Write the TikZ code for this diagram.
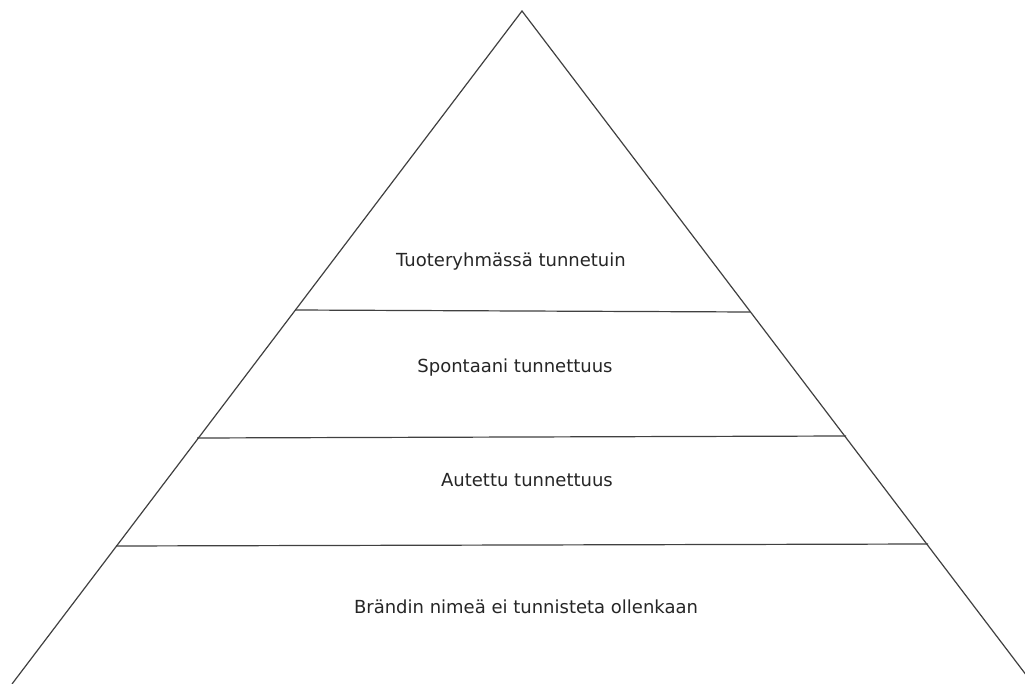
\documentclass[tikz,border=0pt]{standalone}
\usepackage{fontspec}
\setmainfont{DejaVu Sans}
\begin{document}
\begin{tikzpicture}[x=0.75pt,y=-0.75pt,
  edge/.style={draw=black!75,line width=0.9pt},
  label/.style={font=\fontsize{13.5}{16}\selectfont,text=black!85,inner sep=0pt}]
\useasboundingbox (0,0) rectangle (1025,684);
\clip (0,0) rectangle (1025,684);
\fill[white] (0,0) rectangle (1025,684);
\coordinate (apex) at (522,11);
\coordinate (bl) at (12,684);
\coordinate (br) at (1033,684);
\coordinate (a1) at (295,310);
\coordinate (b1) at (750,312);
\coordinate (a2) at (197,438);
\coordinate (b2) at (846,436);
\coordinate (a3) at (116,546);
\coordinate (b3) at (928,544);
\draw[edge] (bl) -- (apex) -- (br);
\draw[edge] (a1) -- (b1);
\draw[edge] (a2) -- (b2);
\draw[edge] (a3) -- (b3);
\node[label] (t1) at (511,262) {Tuoteryhmässä tunnetuin};
\node[label] (t2) at (515,368) {Spontaani tunnettuus};
\node[label] (t3) at (527,480) {Autettu tunnettuus};
\node[label] (t4) at (526,607) {Brändin nimeä ei tunnisteta ollenkaan};
\end{tikzpicture}
\end{document}
